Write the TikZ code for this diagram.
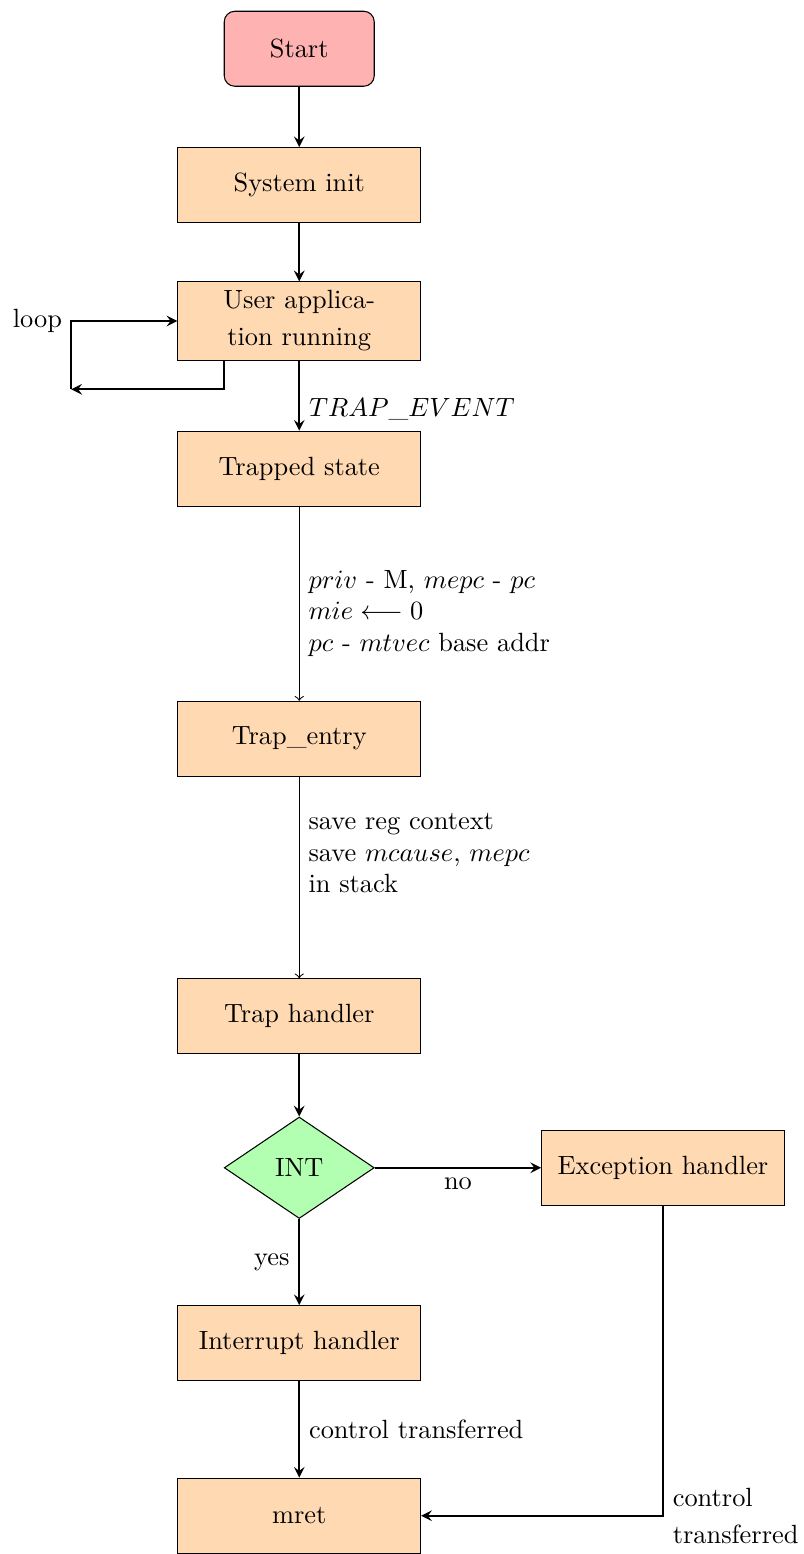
\documentclass[tikz,border=0pt]{standalone}
\usetikzlibrary{shapes.geometric}

\tikzset{
	startstop/.style={rectangle, rounded corners, minimum width=2cm, minimum height=1cm, text centered, draw=black, fill=red!30},
	process/.style={rectangle, minimum width=3cm, minimum height=1cm, text centered, text width=3cm, draw=black, fill=orange!30, font=\linespread{1.17}\selectfont},
	decision/.style={diamond, minimum width=2cm, minimum height=1cm, text centered, draw=black, fill=green!30},
	arrow/.style={thick,->,>=stealth}
}

\begin{document}
\begin{tikzpicture}
	\useasboundingbox (-3.99,0.65) rectangle (6.72,-20.07);
	\node (start) [startstop] at (0,0) {Start};
	\node (init) [process] at (0,-1.82) {System init};
	\node (user) [process] at (0,-3.63) {User application running};
	\node (trapped) [process] at (0,-5.6) {Trapped state};
	\node (entry) [process] at (0,-9.2) {Trap\_entry};
	\node (handler) [process] at (0,-12.9) {Trap handler};
	\node (int) [decision] at (0,-14.92) {INT};
	\node (exc) [process] at (4.85,-14.92) {Exception handler};
	\node (irq) [process] at (0,-17.26) {Interrupt handler};
	\node (mret) [process] at (0,-19.56) {mret};
	\coordinate (loopl) at (-3.04,-4.54);

	\draw [arrow] (start) -- (init);
	\draw [arrow] (init) -- (user);
	% busy loop on the user code
	\draw [arrow] ([xshift=-1cm]user.south) |- (loopl);
	\draw [arrow] (loopl) |- (user.west);
	\node (looplbl) [left] at (loopl |- user.west) {loop};
	\draw [arrow] (user) -- node (evlbl) [right, pos=0.7] {$TRAP\_EVENT$} (trapped);
	\draw [->] (trapped) -- node (privlbl) [right, align=left, pos=0.55] {$priv$ - M, $mepc$ - $pc$\\ $mie \longleftarrow 0$\\ $pc$ - $mtvec$ base addr} (entry);
	\draw [->] (entry) -- node (savelbl) [right, align=left, pos=0.38] {save reg context\\ save $mcause$, $mepc$\\ in stack} (handler);
	\draw [arrow] (handler) -- (int);
	\draw [arrow] (int) -- node (nolbl) [below] {no} (exc);
	\draw [arrow] (int) -- node (yeslbl) [left] {yes} (irq);
	\draw [arrow] (irq) -- node (ctlbl) [right] {control transferred} (mret);
	\draw [arrow] (exc) |- node (ct2lbl) [right, text width=1.8cm, font=\linespread{1.17}\selectfont] {control transferred} (mret);
\end{tikzpicture}
\end{document}
